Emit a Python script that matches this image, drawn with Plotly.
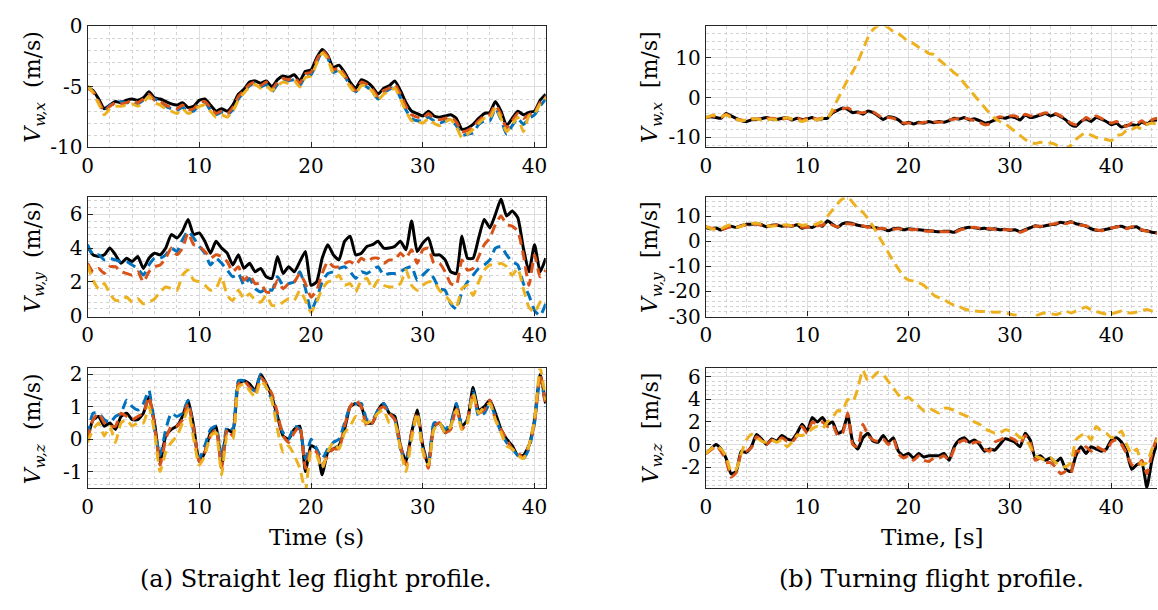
import plotly.graph_objects as go

# ---------------- time axes ----------------
t_left = [i * 0.5 for i in range(83)]    # 0 .. 41 s
t_right = [i * 0.5 for i in range(91)]   # 0 .. 45 s

# ---------------- (a) straight leg : V_w,x ----------------
a_x_black = [-5.0, -5.3, -6.0, -6.8, -6.5, -6.2, -6.3, -6.1, -6.0, -6.1,
             -5.9, -5.4, -5.9, -6.0, -6.2, -6.4, -6.5, -6.3, -6.7, -6.6,
             -6.1, -6.0, -6.5, -7.0, -6.8, -7.0, -6.5, -5.6, -5.2, -4.6,
             -4.5, -4.7, -4.5, -5.0, -4.4, -4.1, -4.2, -4.0, -4.5, -3.7,
             -3.6, -2.6, -1.9, -2.4, -3.4, -3.2, -3.8, -4.6, -5.1, -4.4,
             -4.6, -5.0, -5.6, -5.1, -4.9, -4.5, -5.3, -6.3, -7.0, -7.2,
             -7.4, -7.0, -7.4, -7.5, -7.4, -7.3, -7.6, -8.5, -8.4, -8.1,
             -7.6, -7.2, -7.1, -6.2, -7.0, -8.2, -7.6, -7.0, -7.3, -7.1,
             -7.0, -6.1, -5.6]
a_x_blue = [-5.0, -5.4, -6.3, -7.0, -6.5, -6.4, -6.2, -6.3, -6.2, -6.4,
            -6.1, -5.8, -6.0, -6.2, -6.6, -6.8, -6.9, -6.7, -7.0, -7.0,
            -6.4, -6.3, -6.9, -7.3, -7.1, -7.3, -6.9, -6.0, -5.4, -4.9,
            -4.7, -5.0, -4.8, -5.4, -4.8, -4.5, -4.5, -4.4, -4.9, -4.1,
            -4.0, -3.0, -2.1, -2.6, -3.8, -3.6, -4.1, -4.9, -5.4, -4.8,
            -5.0, -5.4, -6.0, -5.5, -5.2, -5.0, -5.9, -6.9, -7.6, -7.8,
            -7.8, -7.5, -7.8, -8.0, -7.8, -7.7, -8.2, -9.0, -8.9, -8.8,
            -8.1, -7.8, -7.8, -6.8, -7.7, -8.9, -8.2, -7.6, -8.1, -7.6,
            -7.3, -6.6, -6.0]
a_x_orange = [-5.1, -5.4, -6.2, -7.0, -6.6, -6.3, -6.4, -6.3, -6.1, -6.3,
              -6.0, -5.6, -6.1, -6.2, -6.5, -6.7, -6.8, -6.5, -6.9, -6.8,
              -6.3, -6.2, -6.7, -7.2, -7.0, -7.2, -6.7, -5.8, -5.3, -4.8,
              -4.6, -4.9, -4.6, -5.2, -4.6, -4.3, -4.4, -4.2, -4.7, -3.9,
              -3.8, -2.8, -2.0, -2.5, -3.6, -3.4, -4.0, -4.8, -5.3, -4.6,
              -4.8, -5.2, -5.8, -5.3, -5.1, -4.8, -5.6, -6.6, -7.3, -7.5,
              -7.6, -7.2, -7.6, -7.7, -7.6, -7.5, -7.9, -8.7, -8.6, -8.3,
              -7.8, -7.4, -7.3, -6.5, -7.3, -8.4, -7.8, -7.2, -7.6, -7.3,
              -7.1, -6.3, -5.8]
a_x_yellow = [-4.9, -5.5, -6.4, -7.3, -6.8, -6.6, -6.6, -6.5, -6.4, -6.6,
              -6.3, -5.8, -6.3, -6.5, -6.8, -7.0, -7.2, -6.8, -7.2, -7.0,
              -6.6, -6.5, -7.0, -7.5, -7.3, -7.5, -7.0, -6.1, -5.5, -5.0,
              -4.8, -5.1, -4.9, -5.3, -4.9, -4.6, -4.7, -4.5, -5.0, -4.2,
              -4.1, -3.1, -2.2, -2.7, -3.9, -3.7, -4.2, -5.0, -5.5, -4.9,
              -4.9, -5.4, -6.1, -5.6, -5.4, -5.1, -6.0, -7.0, -7.8, -7.8,
              -8.0, -7.6, -8.0, -8.2, -7.9, -7.7, -8.3, -9.2, -8.9, -8.5,
              -8.0, -7.6, -7.6, -6.7, -7.6, -8.7, -8.1, -7.5, -8.7, -7.4,
              -7.2, -6.4, -5.9]

# ---------------- (a) straight leg : V_w,y ----------------
a_y_black = [4.1, 3.6, 3.5, 3.6, 4.0, 3.6, 3.1, 3.4, 3.2, 3.5,
             2.8, 3.4, 3.7, 3.6, 4.0, 4.8, 4.6, 5.0, 5.7, 4.8,
             4.9, 4.4, 3.7, 4.4, 4.0, 3.7, 3.0, 3.6, 2.8, 3.1,
             2.6, 2.8, 2.3, 2.2, 3.5, 2.5, 2.9, 2.6, 3.2, 3.8,
             1.8, 2.0, 3.4, 4.2, 3.6, 3.3, 4.4, 4.7, 3.6, 3.7,
             4.1, 4.2, 4.4, 4.0, 4.0, 4.1, 4.4, 3.9, 5.6, 3.8,
             4.3, 4.6, 3.6, 3.6, 3.3, 2.6, 2.5, 4.7, 3.4, 3.4,
             4.6, 5.7, 5.2, 6.0, 6.9, 5.9, 6.2, 5.8, 4.0, 2.6,
             4.2, 2.6, 3.4]
a_y_blue = [4.2, 3.6, 3.6, 3.3, 3.4, 3.3, 3.2, 3.2, 3.0, 2.8,
            2.4, 3.0, 3.4, 3.4, 3.6, 4.0, 3.8, 4.5, 5.0, 4.6,
            4.1, 3.7, 3.0, 3.4, 3.1, 2.7, 2.3, 2.5, 1.8, 2.2,
            1.6, 1.4, 1.6, 1.5, 2.3, 1.8, 1.9, 2.0, 2.6, 1.6,
            0.3, 1.0, 2.0, 2.5, 2.6, 2.8, 2.9, 2.6, 2.2, 2.6,
            2.5, 2.7, 2.9, 2.4, 2.5, 2.5, 2.6, 2.8, 2.9, 2.1,
            2.4, 2.7, 2.2, 1.6, 1.5, 0.7, 0.4, 1.4, 2.0, 2.4,
            2.8, 3.0, 3.3, 4.0, 4.1, 3.6, 3.2, 3.0, 1.9, 1.2,
            0.3, 0.0, 0.7]
a_y_orange = [3.1, 2.6, 2.8, 2.5, 2.9, 2.9, 2.6, 2.5, 2.4, 2.6,
              2.0, 2.6, 2.9, 3.0, 3.4, 4.0, 3.6, 4.0, 4.9, 4.2,
              4.1, 3.8, 3.4, 3.6, 3.5, 3.2, 2.6, 2.9, 2.1, 2.4,
              1.9, 1.9, 1.4, 1.4, 2.1, 1.6, 1.9, 2.0, 2.5, 1.9,
              1.1, 1.5, 2.5, 3.2, 2.9, 2.9, 3.1, 3.2, 3.0, 3.4,
              3.2, 3.4, 3.4, 3.1, 3.3, 3.3, 3.7, 3.4, 3.9, 3.1,
              3.9, 4.0, 3.1, 3.1, 2.6, 1.9, 1.8, 3.3, 2.7, 2.8,
              3.5, 4.2, 4.6, 5.4, 5.9, 5.4, 5.3, 5.0, 3.6, 1.8,
              3.6, 2.3, 2.7]
a_y_yellow = [3.0, 2.1, 1.6, 1.9, 1.3, 0.9, 0.9, 1.1, 0.8, 1.0,
              0.7, 0.8, 1.0, 1.4, 1.7, 1.6, 1.5, 2.4, 2.7, 2.1,
              2.0, 1.8, 1.5, 1.6, 2.3, 1.2, 0.9, 1.5, 1.0, 1.3,
              0.9, 0.8, 1.2, 0.6, 0.6, 0.8, 1.0, 0.9, 1.5, 0.9,
              0.2, 0.8, 1.6, 2.0, 2.1, 2.4, 1.8, 1.9, 1.4, 2.1,
              2.2, 1.6, 2.1, 1.8, 1.7, 1.7, 1.9, 2.7, 1.8, 1.5,
              1.8, 2.0, 2.0, 1.5, 1.2, 0.8, 0.5, 1.6, 1.8, 1.2,
              2.0, 2.7, 3.0, 3.0, 3.1, 2.9, 2.4, 2.8, 1.6, 0.5,
              0.2, 0.8, 1.1]

# ---------------- (a) straight leg : V_w,z ----------------
a_z_black = [0.0, 0.6, 0.7, 0.4, 0.5, 0.3, 0.7, 0.8, 0.6, 0.6,
             0.8, 1.3, 0.5, -0.7, 0.1, 0.3, 0.4, 0.7, 1.2, 0.4,
             -0.7, -0.4, 0.2, 0.4, -0.8, 0.3, 0.2, 1.7, 1.8, 1.7,
             1.5, 2.0, 1.7, 1.3, 0.7, 0.1, 0.0, 0.3, 0.4, -1.0,
             -0.2, -0.3, -1.1, -0.4, -0.3, -0.2, 0.3, 1.0, 1.1, 1.0,
             0.5, 0.5, 0.9, 1.1, 0.8, 0.7, -0.2, -0.7, 0.2, 0.9,
             -0.2, -0.8, 0.4, 0.5, 0.2, 0.4, 1.1, 0.4, 0.6, 1.6,
             0.9, 1.0, 1.2, 0.8, 0.3, 0.0, -0.2, -0.5, -0.5, -0.2,
             0.6, 2.0, 1.1]
a_z_blue = [0.1, 0.8, 0.8, 0.6, 0.5, 0.7, 0.8, 1.2, 1.0, 0.9,
            1.1, 1.5, 0.3, -0.5, 0.3, 0.8, 0.7, 0.8, 1.2, 0.2,
            -0.6, -0.2, 0.3, 0.4, -0.6, 0.4, 0.3, 1.8, 1.8, 1.6,
            1.5, 2.0, 1.6, 1.2, 0.6, 0.2, 0.0, 0.4, 0.3, -0.6,
            0.0, -0.3, -0.6, -0.3, -0.1, 0.0, 0.5, 1.0, 1.1, 1.1,
            0.6, 0.6, 0.9, 1.1, 0.8, 0.6, -0.3, -0.6, 0.1, 0.8,
            -0.3, -0.7, 0.5, 0.5, 0.3, 0.5, 1.1, 0.4, 0.6, 1.5,
            0.7, 0.8, 1.1, 0.7, 0.2, -0.1, -0.3, -0.5, -0.6, -0.3,
            0.5, 1.9, 1.0]
a_z_orange = [0.0, 0.6, 0.8, 0.5, 0.4, 0.4, 0.8, 0.7, 0.6, 0.7,
              0.8, 1.3, 0.4, -0.8, 0.0, 0.4, 0.4, 0.6, 1.1, 0.3,
              -0.7, -0.4, 0.1, 0.3, -0.9, 0.3, 0.1, 1.7, 1.8, 1.6,
              1.4, 1.9, 1.7, 1.4, 0.8, 0.1, -0.1, 0.2, 0.4, -0.9,
              -0.3, -0.4, -0.8, -0.5, -0.3, -0.3, 0.4, 1.0, 1.2, 1.0,
              0.4, 0.5, 0.9, 1.0, 0.8, 0.6, -0.2, -0.8, 0.2, 0.8,
              -0.3, -0.9, 0.4, 0.5, 0.2, 0.3, 1.0, 0.3, 0.6, 1.4,
              0.8, 0.9, 1.2, 0.6, 0.3, 0.0, -0.3, -0.4, -0.6, -0.2,
              0.5, 2.0, 1.0]
a_z_yellow = [-0.1, 0.3, 0.5, 0.1, 0.4, -0.1, 0.5, 0.6, 0.4, 0.5,
              0.5, 1.0, 0.2, -1.0, -0.4, -0.1, 0.1, 0.5, 0.9, 0.0,
              -0.8, -0.5, 0.1, 0.2, -1.1, 0.1, 0.0, 1.6, 1.7, 1.5,
              1.3, 1.8, 1.6, 1.2, 0.3, -0.4, -0.2, -0.5, -0.9, -1.6,
              -0.4, -0.5, -0.9, -0.4, -0.1, -0.3, 0.2, 0.4, 0.7, 0.6,
              0.5, 0.6, 0.8, 0.9, 0.5, 0.5, -0.3, -1.0, 0.0, 0.8,
              -0.4, -0.8, 0.3, 0.5, 0.2, 0.4, 0.9, 0.3, 0.5, 1.4,
              0.8, 1.0, 1.1, 0.6, 0.2, -0.2, -0.3, -0.5, -0.6, -0.2,
              0.6, 2.2, 1.2]

# ---------------- (b) turning : V_w,x ----------------
b_x_black = [-5.0, -4.8, -5.0, -5.2, -4.0, -4.6, -5.2, -5.8, -6.0, -5.6,
             -5.5, -5.3, -5.0, -5.4, -5.5, -5.2, -5.0, -5.6, -5.2, -5.5,
             -5.4, -5.0, -5.6, -5.3, -5.2, -3.8, -3.2, -2.6, -3.0, -3.8,
             -3.6, -4.2, -3.4, -3.8, -4.6, -5.5, -4.8, -5.0, -5.6, -6.6,
             -6.2, -6.6, -6.2, -6.4, -6.0, -6.3, -6.0, -6.2, -5.8, -5.2,
             -5.4, -5.0, -5.6, -5.3, -5.8, -6.4, -6.2, -5.6, -5.0, -5.2,
             -4.8, -5.0, -5.6, -4.4, -5.0, -4.8, -4.4, -4.0, -4.6, -4.2,
             -4.8, -5.6, -6.8, -7.2, -6.0, -5.4, -6.0, -5.0, -5.4, -6.0,
             -6.8, -6.4, -7.4, -7.0, -6.8, -7.0, -6.2, -6.6, -5.8, -5.6,
             -5.4]
b_x_orange = [-5.2, -4.6, -4.8, -5.0, -4.2, -4.8, -5.4, -5.6, -5.8, -5.4,
              -5.3, -5.5, -5.2, -5.2, -5.3, -5.4, -5.2, -5.4, -5.0, -5.7,
              -5.2, -5.2, -5.4, -5.1, -5.0, -3.6, -3.0, -2.8, -2.6, -3.4,
              -3.8, -3.8, -3.6, -3.6, -4.4, -5.2, -5.0, -5.2, -5.8, -6.4,
              -6.4, -6.4, -6.4, -6.2, -6.2, -6.1, -6.2, -6.0, -5.6, -5.4,
              -5.2, -5.2, -5.4, -5.8, -6.2, -6.8, -6.6, -5.4, -4.8, -5.0,
              -4.6, -4.6, -5.2, -4.2, -4.6, -4.4, -4.2, -3.8, -4.0, -4.0,
              -4.6, -5.4, -6.4, -6.8, -6.2, -5.0, -5.6, -4.6, -5.2, -5.8,
              -6.4, -6.0, -6.8, -7.2, -6.4, -6.6, -5.8, -6.8, -5.6, -5.2,
              -5.2]
b_x_yellow = [-5.0, -4.6, -4.4, -4.8, -4.4, -5.0, -5.4, -5.8, -5.6, -5.4,
              -5.4, -5.6, -5.6, -5.4, -5.6, -5.4, -5.0, -5.4, -5.6, -6.0,
              -5.6, -5.2, -5.6, -5.2, -5.4, -3.0, -0.5, 2.0, 4.5, 6.5,
              9.0, 12.0, 15.0, 17.0, 18.0, 18.3, 17.5, 16.5, 16.0, 15.0,
              14.0, 13.5, 12.6, 12.0, 11.0, 10.8, 9.5, 8.4, 7.3, 6.2,
              5.2, 3.5, 2.0, 0.5, -1.0, -2.5, -4.0, -5.2, -6.0, -6.5,
              -7.5, -8.5, -9.5, -10.5, -11.2, -11.5, -11.2, -11.5, -11.4, -11.8,
              -12.6, -12.8, -12.0, -10.5, -9.5, -8.8, -9.4, -10.0, -10.2, -10.5,
              -10.8, -9.5, -9.3, -8.2, -8.0, -7.4, -7.8, -6.8, -6.4, -6.6,
              -6.0]

# ---------------- (b) turning : V_w,y ----------------
b_y_black = [5.5, 5.0, 5.3, 4.5, 5.5, 6.0, 5.5, 6.2, 6.8, 6.8,
             7.0, 6.6, 5.8, 6.4, 6.5, 6.0, 6.4, 6.0, 6.6, 5.2,
             5.8, 5.5, 6.6, 6.0, 8.2, 6.8, 5.6, 7.0, 7.4, 7.0,
             6.4, 6.0, 5.8, 5.6, 5.2, 5.0, 4.2, 5.0, 5.2, 4.6,
             5.0, 4.8, 4.6, 4.4, 4.2, 4.0, 3.8, 4.0, 4.0, 3.6,
             4.6, 5.2, 5.6, 5.4, 5.0, 5.2, 4.8, 5.0, 4.6, 4.8,
             4.4, 4.6, 3.8, 4.6, 5.4, 6.2, 5.8, 6.2, 6.6, 6.8,
             7.6, 7.2, 7.8, 7.0, 6.6, 6.0, 5.0, 4.4, 4.4, 4.8,
             5.2, 5.8, 6.0, 5.2, 5.6, 5.8, 4.4, 4.2, 3.6, 3.4,
             3.2]
b_y_orange = [5.8, 5.2, 5.0, 4.8, 5.2, 5.8, 5.8, 6.0, 6.6, 7.0,
              6.8, 6.4, 6.0, 6.2, 6.6, 6.2, 6.0, 6.2, 6.4, 5.6,
              5.6, 5.8, 6.2, 6.4, 7.6, 6.4, 5.8, 6.8, 7.0, 6.8,
              6.6, 6.2, 5.6, 5.8, 5.0, 5.2, 4.6, 4.8, 5.0, 4.8,
              4.8, 4.6, 4.8, 4.2, 4.0, 4.2, 4.0, 3.8, 3.8, 3.4,
              4.4, 5.0, 5.4, 5.6, 5.2, 5.0, 5.0, 4.8, 4.8, 4.6,
              4.6, 4.4, 3.6, 4.4, 5.2, 6.0, 6.0, 6.0, 6.8, 7.0,
              7.8, 7.0, 7.6, 7.2, 6.4, 6.2, 5.2, 4.6, 4.2, 4.6,
              5.4, 5.6, 6.2, 5.0, 5.8, 5.6, 4.6, 4.0, 3.8, 3.2,
              3.0]
b_y_yellow = [6.0, 5.0, 4.8, 5.0, 6.0, 6.6, 5.6, 6.0, 7.0, 7.2,
              7.2, 6.8, 6.2, 6.0, 6.2, 6.4, 6.6, 6.2, 7.0, 6.4,
              6.6, 6.4, 7.0, 8.0, 10.0, 12.5, 15.0, 17.0, 17.6, 15.5,
              13.0, 11.5, 9.0, 6.0, 2.5, -1.0, -4.5, -8.0, -11.0, -14.0,
              -15.5, -15.8, -16.5, -17.5, -19.5, -21.5, -22.5, -23.2, -24.5, -25.5,
              -26.0, -27.0, -27.5, -27.8, -28.0, -28.0, -28.1, -28.3, -28.2, -28.5,
              -29.0, -29.4, -30.0, -31.0, -31.5, -30.0, -29.0, -28.6, -28.8, -29.2,
              -28.6, -27.8, -28.6, -27.8, -27.0, -26.2, -27.4, -28.0, -28.6, -29.0,
              -28.8, -28.4, -27.8, -28.4, -28.6, -28.2, -27.6, -27.2, -27.8, -28.0,
              -28.2]

# ---------------- (b) turning : V_w,z ----------------
b_z_black = [-0.8, -0.4, 0.0, -0.4, -1.2, -2.6, -2.4, -0.6, -0.7, -0.2,
             0.9, 0.5, 0.0, 0.5, 0.3, 0.8, 0.5, 0.4, 1.0, 1.8,
             1.2, 2.4, 2.0, 2.4, 1.8, 2.0, 1.0, 1.2, 2.6, 0.2,
             -0.4, 0.6, 1.0, 0.3, 0.2, 0.8, 0.2, 0.6, -0.6, -1.0,
             -0.8, -1.2, -0.8, -1.1, -1.0, -1.0, -1.0, -0.8, -1.4, -0.2,
             0.4, 0.6, 0.2, 0.4, 0.0, -0.6, -0.4, -0.5, 0.0, 0.5,
             0.4, 0.2, -0.2, 1.0, 0.4, -1.2, -1.0, -1.4, -1.2, -1.6,
             -1.2, -2.2, -2.4, -1.0, -0.2, -0.8, -0.2, -0.4, -0.6, -0.4,
             0.4, 0.6, 0.2, -0.6, -2.2, -1.8, -1.6, -3.8, -1.4, 0.0,
             0.4]
b_z_orange = [-0.8, -0.5, -0.1, -0.6, -1.4, -2.9, -2.5, -0.8, -0.6, -0.3,
              0.7, 0.4, 0.0, 0.4, 0.2, 0.6, 0.3, 0.2, 0.8, 1.6,
              1.0, 2.0, 1.8, 2.0, 1.6, 1.8, 0.8, 1.0, 2.8, 0.0,
              -0.2, 1.8, 0.8, 0.4, 0.3, 0.5, 0.0, 0.5, -0.8, -1.2,
              -1.0, -1.4, -1.0, -1.4, -1.5, -1.2, -1.2, -1.0, -1.4, -0.4,
              0.2, 0.4, 0.0, 0.2, 0.2, -0.4, -0.6, 0.2, 0.4, 0.6,
              0.6, 0.4, 0.0, 0.8, 0.2, -1.4, -1.2, -1.6, -1.6, -2.0,
              -2.6, -2.4, -2.6, -0.6, -0.6, -0.2, -0.6, -0.2, -0.4, -0.6,
              0.2, 0.4, 0.0, -0.8, -1.8, -2.0, -1.4, -2.6, -0.8, 0.6,
              0.8]
b_z_yellow = [-0.8, -0.4, -0.1, -0.4, -1.0, -2.4, -2.2, -0.8, 0.4, 0.9,
              0.6, 0.3, 0.2, 0.4, 0.2, 0.4, -0.2, 0.2, 0.8, 0.8,
              1.0, 1.4, 1.6, 1.4, 2.0, 2.4, 3.0, 3.0, 4.0, 3.8,
              5.0, 6.6, 5.6, 6.0, 6.4, 6.2, 5.6, 5.0, 4.4, 4.0,
              4.2, 3.8, 3.4, 3.0, 3.2, 3.0, 2.8, 3.2, 3.2, 3.0,
              2.8, 2.6, 2.4, 2.0, 1.8, 1.4, 1.2, 1.0, 1.0, 1.3,
              1.2, 1.0, 0.6, 0.6, -0.2, -1.0, -1.2, -1.4, -1.2, -1.6,
              -1.8, -2.0, -1.6, 0.4, 0.8, 1.0, 0.4, 1.6, 1.2, 1.0,
              0.6, 0.8, 1.2, 0.0, -0.8, -0.4, -1.8, -1.6, -0.4, 0.4,
              0.8]

# ---------------- tick labels ----------------
x_ticks_left = [0, 10, 20, 30, 40]
x_ticks_right = [0, 10, 20, 30, 40]
y_ticks = {
    "a_x": [-10, -5, 0], "a_y": [0, 2, 4, 6], "a_z": [-1, 0, 1, 2],
    "b_x": [-10, 0, 10], "b_y": [-30, -20, -10, 0, 10], "b_z": [-2, 0, 2, 4, 6],
}

# ---------------- style ----------------
W, H = 1158, 610
BLACK = "#000000"
BLUE = "#0072BD"
ORANGE = "#D95319"
YELLOW = "#EDB120"
FRAME = "#262626"
GRID = "#dedede"
MINOR = "#d2d2d2"
FONT = "DejaVu Serif, serif"
LW = 3.0
DASH = "10px,6px"

def px_x(p):
    return p / W

def px_y(p):
    return 1 - p / H

rows = [(15, 141), (193, 317), (371, 496)]
left_dom = [px_x(82), px_x(543)]
right_dom = [px_x(704), 1.0]

fig = go.Figure()

panels = [
    ("a_x", 1, 0, [-10, 0], 1, [a_x_black, a_x_blue, a_x_orange, a_x_yellow]),
    ("a_y", 2, 1, [-0.05, 7.0], 0.4, [a_y_black, a_y_blue, a_y_orange, a_y_yellow]),
    ("a_z", 3, 2, [-1.52, 2.18], 0.2, [a_z_black, a_z_blue, a_z_orange, a_z_yellow]),
    ("b_x", 4, 0, [-12.5, 17.8], 2, [b_x_black, None, b_x_orange, b_x_yellow]),
    ("b_y", 5, 1, [-30, 17.5], 2, [b_y_black, None, b_y_orange, b_y_yellow]),
    ("b_z", 6, 2, [-3.9, 6.75], 0.4, [b_z_black, None, b_z_orange, b_z_yellow]),
]

colors = [BLACK, BLUE, ORANGE, YELLOW]
layout_axes = {}
for name, idx, row, yr, ymin, series in panels:
    is_left = name.startswith("a")
    t = t_left if is_left else t_right
    xs = "x" if idx == 1 else f"x{idx}"
    ys = "y" if idx == 1 else f"y{idx}"
    for k, s in enumerate(series):
        if s is None:
            continue
        fig.add_trace(go.Scatter(
            x=t, y=s, xaxis=xs, yaxis=ys, mode="lines",
            line=dict(color=colors[k], width=LW, shape="spline", smoothing=0.5,
                      dash="solid" if k == 0 else DASH),
            showlegend=False, hoverinfo="skip", cliponaxis=True))
    top, bot = rows[row]
    xticks = x_ticks_left if is_left else x_ticks_right
    xkey = "xaxis" if idx == 1 else f"xaxis{idx}"
    ykey = "yaxis" if idx == 1 else f"yaxis{idx}"
    layout_axes[xkey] = dict(
        domain=left_dom if is_left else right_dom,
        range=[0, 41] if is_left else [0, 44.5],
        anchor=ys, tickmode="array", tickvals=xticks,
        ticktext=[str(v) for v in xticks],
        showline=True, mirror=True, linecolor=FRAME, linewidth=1.2,
        ticks="inside", ticklen=5, tickcolor=FRAME,
        showgrid=True, gridcolor=GRID, gridwidth=1, zeroline=False,
        minor=dict(dtick=2, tick0=0, showgrid=True, gridcolor=MINOR,
                   griddash="dot", gridwidth=1),
        tickfont=dict(family=FONT, size=20, color="#000"),
    )
    yt = y_ticks[name]
    layout_axes[ykey] = dict(
        domain=[px_y(bot), px_y(top)], range=yr, anchor=xs,
        tickmode="array", tickvals=yt, ticktext=[str(v) for v in yt],
        showline=True, mirror=True if is_left else False,
        linecolor=FRAME, linewidth=1.2,
        ticks="inside", ticklen=5, tickcolor=FRAME,
        showgrid=True, gridcolor=GRID, gridwidth=1, zeroline=False,
        minor=dict(dtick=ymin, tick0=0, showgrid=True, gridcolor=MINOR,
                   griddash="dot", gridwidth=1),
        tickfont=dict(family=FONT, size=20, color="#000"),
    )

fig.update_layout(**layout_axes)

# ---------------- texts ----------------
ann = []
ytitles_left = ["<i>V</i><sub><i>w,x</i></sub>  (m/s)",
                "<i>V</i><sub><i>w,y</i></sub>  (m/s)",
                "<i>V</i><sub><i>w,z</i></sub>  (m/s)"]
ytitles_right = ["<i>V</i><sub><i>w,x</i></sub>  [m/s]",
                 "<i>V</i><sub><i>w,y</i></sub>  [m/s]",
                 "<i>V</i><sub><i>w,z</i></sub>  [m/s]"]
for i, (top, bot) in enumerate(rows):
    yc = px_y((top + bot) / 2)
    ann.append(dict(x=px_x(29), y=yc, xref="paper", yref="paper",
                    text=ytitles_left[i], textangle=-90, showarrow=False,
                    xanchor="center", yanchor="middle",
                    font=dict(family=FONT, size=22, color="#000")))
    ann.append(dict(x=px_x(650), y=yc, xref="paper", yref="paper",
                    text=ytitles_right[i], textangle=-90, showarrow=False,
                    xanchor="center", yanchor="middle",
                    font=dict(family=FONT, size=22, color="#000")))

ann.append(dict(x=px_x(312), y=px_y(546), xref="paper", yref="paper",
                text="Time (s)", showarrow=False, xanchor="center", yanchor="middle",
                font=dict(family=FONT, size=23, color="#000")))
ann.append(dict(x=px_x(932), y=px_y(546), xref="paper", yref="paper",
                text="Time, [s]", showarrow=False, xanchor="center", yanchor="middle",
                font=dict(family=FONT, size=23, color="#000")))
ann.append(dict(x=px_x(312), y=px_y(590), xref="paper", yref="paper",
                text="(a) Straight leg flight profile.", showarrow=False,
                xanchor="center", yanchor="middle",
                font=dict(family=FONT, size=24, color="#000")))
ann.append(dict(x=px_x(931), y=px_y(590), xref="paper", yref="paper",
                text="(b) Turning flight profile.", showarrow=False,
                xanchor="center", yanchor="middle",
                font=dict(family=FONT, size=24, color="#000")))

fig.update_layout(
    width=W, height=H, margin=dict(l=0, r=0, t=0, b=0),
    paper_bgcolor="white", plot_bgcolor="white",
    annotations=ann, showlegend=False,
)

fig.write_html("out.html", config={"displayModeBar": False})
